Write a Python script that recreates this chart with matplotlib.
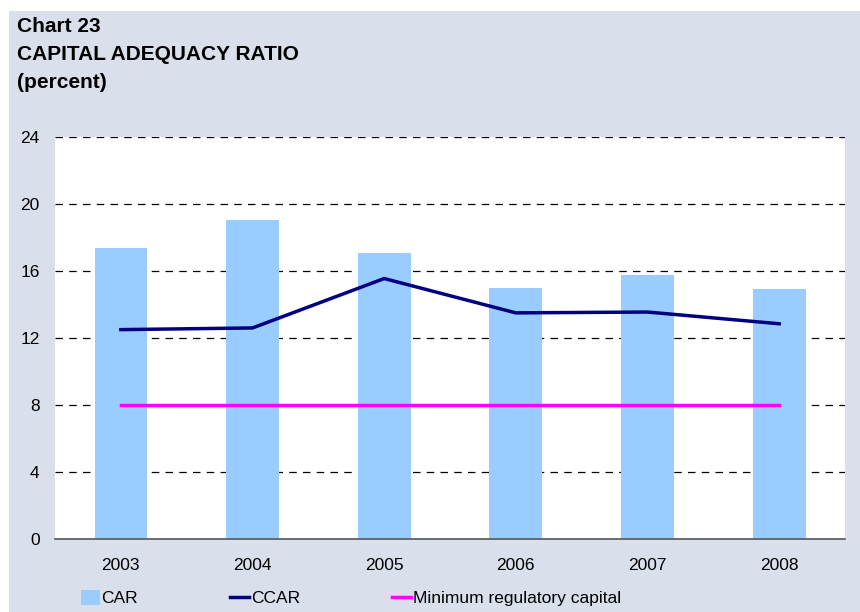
import matplotlib.pyplot as plt
from matplotlib.patches import Rectangle

plt.rcParams['font.family'] = ['Liberation Sans', 'DejaVu Sans']

# Data
years = ['2003', '2004', '2005', '2006', '2007', '2008']
car = [17.4, 19.05, 17.1, 15.0, 15.75, 14.95]
ccar = [12.5, 12.6, 15.55, 13.5, 13.55, 12.85]
min_capital = [8, 8, 8, 8, 8, 8]

bg = '#D9DFEB'

fig = plt.figure(figsize=(8.6, 6.12), dpi=100)
fig.patch.set_facecolor('white')
fig.patches.append(Rectangle((9 / 860, 0), 1, 1 - 11 / 612, transform=fig.transFigure,
                             facecolor=bg, edgecolor='none', zorder=-10))

ax = fig.add_axes([55 / 860, 73 / 612, 790 / 860, 402 / 612])
ax.set_facecolor('white')

x = range(len(years))
bars = ax.bar(x, car, width=0.4, color='#99CCFF', label='CAR', zorder=2)
l1, = ax.plot(x, ccar, color='#000080', linewidth=2.5, label='CCAR', zorder=3)
l2, = ax.plot(x, min_capital, color='#FF00FF', linewidth=2.5,
              label='Minimum regulatory capital', zorder=3)

ax.set_xlim(-0.5, len(years) - 0.5)
ax.set_ylim(0, 24)
ax.set_yticks(range(0, 25, 4))
ax.set_xticks(list(x))
ax.set_xticklabels(years, fontsize=12.5)
ax.tick_params(length=0, colors='black')
ax.tick_params(axis='y', pad=11, labelsize=12.5)
ax.tick_params(axis='x', pad=14)

# dashed gridlines behind the bars
for v in range(4, 25, 4):
    ax.axhline(v, color='black', linestyle=(0, (6, 5)), linewidth=0.9, zorder=1)

for s in ['top', 'left', 'right']:
    ax.spines[s].set_visible(False)
ax.spines['bottom'].set_color('#555555')
ax.spines['bottom'].set_linewidth(1.2)
ax.spines['bottom'].set_zorder(4)

fig.text(17 / 860, 1 - 17 / 612, 'Chart 23\nCAPITAL ADEQUACY RATIO\n(percent)',
         fontsize=15, fontweight='bold', va='top', ha='left', linespacing=1.6)

fig.legend(handles=[bars, l1, l2], loc='center left', bbox_to_anchor=(65 / 860, 14 / 612),
           ncol=3, frameon=False, fontsize=12.5,
           handlelength=1.1, handletextpad=0.1, columnspacing=5.3, handleheight=1.0)

fig.savefig('out.png', dpi=100, facecolor=fig.get_facecolor())
